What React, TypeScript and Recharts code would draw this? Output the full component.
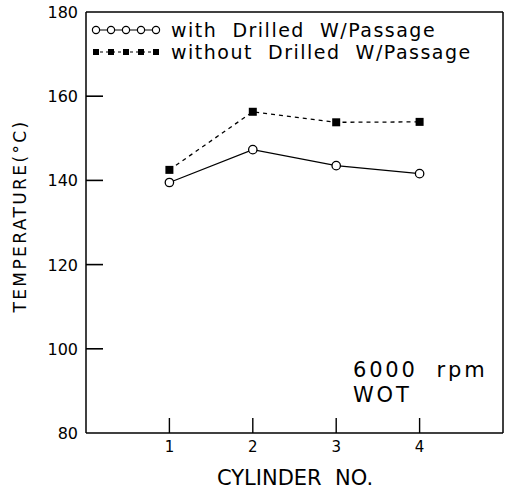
import { ComposedChart, Line, ReferenceLine, Scatter, XAxis, YAxis } from 'recharts';

const cylinders = [1, 2, 3, 4];
const withPassage = [139.5, 147.3, 143.5, 141.6];
const withoutPassage = [142.5, 156.3, 153.8, 153.9];
const xTicks = [1, 2, 3, 4];
const yTicks = [80, 100, 120, 140, 160, 180];
const yInnerTicks = [100, 120, 140, 160];

const data = cylinders.map((c, i) => ({ cyl: c, with: withPassage[i], without: withoutPassage[i] }));
const yTickMarks = yInnerTicks.map((v) => ({ cyl: 0, mark: v }));
const xTickMarks = xTicks.map((v) => ({ cyl: v, mark: 80 }));

const font = '"DejaVu Sans", sans-serif';

function SquareDot(props: any) {
  const { cx, cy } = props;
  if (cx == null || cy == null) return null;
  return <rect x={cx - 4} y={cy - 4} width={8} height={8} fill="#000"/>;
}

function HTickShape(props: any) {
  const { cx, cy } = props;
  return <rect x={cx} y={cy - 0.8} width={17} height={1.6} fill="#000"/>;
}

function VTickShape(props: any) {
  const { cx, cy } = props;
  return <rect x={cx - 0.7} y={cy - 15} width={1.4} height={15} fill="#000"/>;
}

function YTick(props: any) {
  const { x, y, payload } = props;
  return <text x={Number(x) - 8} y={Number(y)} dy={6} textAnchor="end" fontSize={16} fontFamily={font} fill="#000">{payload.value}</text>;
}

function XTick(props: any) {
  const { x, y, payload } = props;
  return <text x={Number(x)} y={Number(y) + 19} textAnchor="middle" fontSize={15} fontFamily={font} fill="#000">{payload.value}</text>;
}

function LegendBox() {
  const marks = [0, 1, 2, 3, 4];
  return (
    <div style={{ position: 'absolute', left: 90, top: 19, fontFamily: font, fontSize: 19, letterSpacing: 1.5, color: '#000', lineHeight: '22px' }}>
      <div style={{ display: 'flex', alignItems: 'center' }}>
        <svg width={76} height={22}>
          <line x1={4} y1={11} x2={70} y2={11} stroke="#000" strokeWidth={1.2}/>
          {marks.map((i) => <circle key={i} cx={6 + i * 15} cy={11} r={3.6} fill="#fff" stroke="#000" strokeWidth={1.2}/>)}
        </svg>
        <span style={{ whiteSpace: 'pre', marginLeft: 5 }}>with  Drilled  W/Passage</span>
      </div>
      <div style={{ display: 'flex', alignItems: 'center' }}>
        <svg width={76} height={22}>
          <line x1={4} y1={11} x2={70} y2={11} stroke="#000" strokeWidth={1.2} strokeDasharray="3 3"/>
          {marks.map((i) => <rect key={i} x={3 + i * 15} y={8} width={6} height={6} fill="#000"/>)}
        </svg>
        <span style={{ whiteSpace: 'pre', marginLeft: 5 }}>without  Drilled  W/Passage</span>
      </div>
    </div>
  );
}

export default function App() {
  return (
    <div style={{ position: 'absolute', left: 0, top: 0, width: 511, height: 489, background: '#fff' }}>
      <ComposedChart width={511} height={489} data={data} margin={{ top: 12, right: 8, left: 0, bottom: 0 }}>
        <XAxis
          dataKey="cyl"
          type="number"
          domain={[0, 5]}
          ticks={xTicks}
          height={56}
          tickSize={0}
          tickMargin={0}
          tickLine={false}
          axisLine={{ stroke: '#000', strokeWidth: 1.5 }}
          tick={<XTick/>}
        />
        <YAxis
          type="number"
          domain={[80, 180]}
          ticks={yTicks}
          width={86}
          tickSize={0}
          tickMargin={0}
          tickLine={false}
          axisLine={{ stroke: '#000', strokeWidth: 1.5 }}
          tick={<YTick/>}
        />
        {/* frame */}
        <ReferenceLine y={180} stroke="#000" strokeWidth={1.5}/>
        <ReferenceLine x={5} stroke="#000" strokeWidth={1.5}/>
        {/* inward tick marks */}
        <Scatter data={yTickMarks} dataKey="mark" shape={<HTickShape/>} isAnimationActive={false} legendType="none"/>
        <Scatter data={xTickMarks} dataKey="mark" shape={<VTickShape/>} isAnimationActive={false} legendType="none"/>
        <Line
          type="linear"
          dataKey="with"
          stroke="#000"
          strokeWidth={1.3}
          dot={{ r: 4.2, fill: '#fff', stroke: '#000', strokeWidth: 1.3 }}
          isAnimationActive={false}
        />
        <Line
          type="linear"
          dataKey="without"
          stroke="#000"
          strokeWidth={1.3}
          strokeDasharray="4 4"
          dot={<SquareDot/>}
          isAnimationActive={false}
        />
      </ComposedChart>
      <LegendBox/>
      <svg style={{ position: 'absolute', left: 0, top: 0, pointerEvents: 'none' }} width={511} height={489}>
        <text x={0} y={0} transform="translate(26 216) rotate(-90)" textAnchor="middle" fontSize={17} letterSpacing={2.4} fontFamily={font} fill="#000">TEMPERATURE(°C)</text>
        <text x={295} y={485} textAnchor="middle" fontSize={21} fontFamily={font} fill="#000" style={{ whiteSpace: 'pre' }}>CYLINDER  NO.</text>
        <text fontSize={21} letterSpacing={2.8} fontFamily={font} fill="#000" style={{ whiteSpace: 'pre' }}>
          <tspan x={353} y={377}>6000  rpm</tspan>
          <tspan x={353} y={402}>WOT</tspan>
        </text>
      </svg>
    </div>
  );
}
